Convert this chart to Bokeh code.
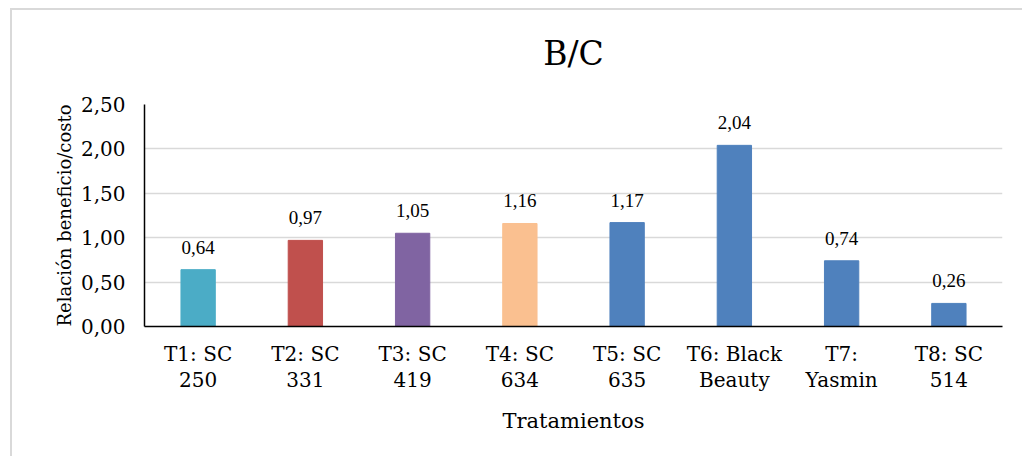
from bokeh.plotting import figure
from bokeh.models import (ColumnDataSource, FactorRange, Range1d, FixedTicker, CustomJSTickFormatter,
                          LabelSet, CategoricalAxis)
from bokeh.embed import file_html
from bokeh.resources import INLINE

categories = ["T1: SC\n250", "T2: SC\n331", "T3: SC\n419", "T4: SC\n634",
              "T5: SC\n635", "T6: Black\nBeauty", "T7:\nYasmin", "T8: SC\n514"]
values = [0.64, 0.97, 1.05, 1.16, 1.17, 2.04, 0.74, 0.26]
colors = ["#4BACC6", "#C0504D", "#8064A2", "#FAC090",
          "#4F81BD", "#4F81BD", "#4F81BD", "#4F81BD"]
y_ticks = [0, 0.5, 1.0, 1.5, 2.0, 2.5]
title_text = "B/C"

FONT = "DejaVu Serif"

labels = [f"{v:.2f}".replace(".", ",") for v in values]
src = ColumnDataSource(dict(cat=categories, val=values, color=colors, label=labels))

p = figure(x_range=FactorRange(*categories, range_padding=0), y_range=Range1d(0, 2.5),
           width=1012, height=448, output_backend="svg", toolbar_location=None,
           min_border_left=132, min_border_right=22, min_border_top=94, min_border_bottom=132)
p.styles = {"margin-left": "10px", "margin-top": "8px",
            "border-left": "2px solid #d9d9d9", "border-top": "2px solid #d9d9d9"}

bottom_axis = p.below[0]
left_axis = p.left[0]

p.vbar(x="cat", top="val", width=0.32, color="color", source=src)

lbl = LabelSet(x="cat", y="val", text="label", source=src, y_offset=16,
               text_align="center", text_baseline="alphabetic",
               text_font=FONT, text_font_size="19px", text_color="#000000")
p.add_layout(lbl)

# title drawn as the label of an axis above the plot whose tick labels are hidden
top_axis = CategoricalAxis(axis_label=title_text, axis_line_color=None,
                           major_tick_line_color=None, minor_tick_line_color=None,
                           major_label_text_font_size="0px", major_label_text_alpha=0,
                           major_label_standoff=0, major_tick_out=0, major_tick_in=0,
                           axis_label_text_font=FONT, axis_label_text_font_size="33px",
                           axis_label_text_font_style="normal", axis_label_text_color="#000000",
                           axis_label_standoff=32)
p.add_layout(top_axis, "above")

p.outline_line_color = None
p.xgrid.grid_line_color = None
p.ygrid.grid_line_color = "#d9d9d9"
p.ygrid.grid_line_width = 1.5

left_axis.ticker = FixedTicker(ticks=y_ticks)
left_axis.formatter = CustomJSTickFormatter(code="return tick.toFixed(2).replace('.', ',');")
for ax in (bottom_axis, left_axis):
    ax.axis_line_color = "#000000"
    ax.axis_line_width = 1.5
    ax.major_tick_line_color = None
    ax.minor_tick_line_color = None
    ax.major_tick_out = 0
    ax.major_tick_in = 0
    ax.major_label_text_font = FONT
    ax.major_label_text_font_size = "20px"
    ax.major_label_text_color = "#000000"
    ax.axis_label_text_font = FONT
    ax.axis_label_text_font_size = "21px"
    ax.axis_label_text_font_style = "normal"
    ax.axis_label_text_color = "#000000"

left_axis.axis_label = "Relación beneficio/costo"
left_axis.axis_label_text_font_size = "18px"
left_axis.major_label_standoff = 19
left_axis.axis_label_standoff = 3
bottom_axis.axis_label = "Tratamientos"
bottom_axis.major_label_standoff = 15
bottom_axis.axis_label_standoff = 14
bottom_axis.major_label_text_line_height = 1.1

open("out.html", "w").write(file_html(p, INLINE))
